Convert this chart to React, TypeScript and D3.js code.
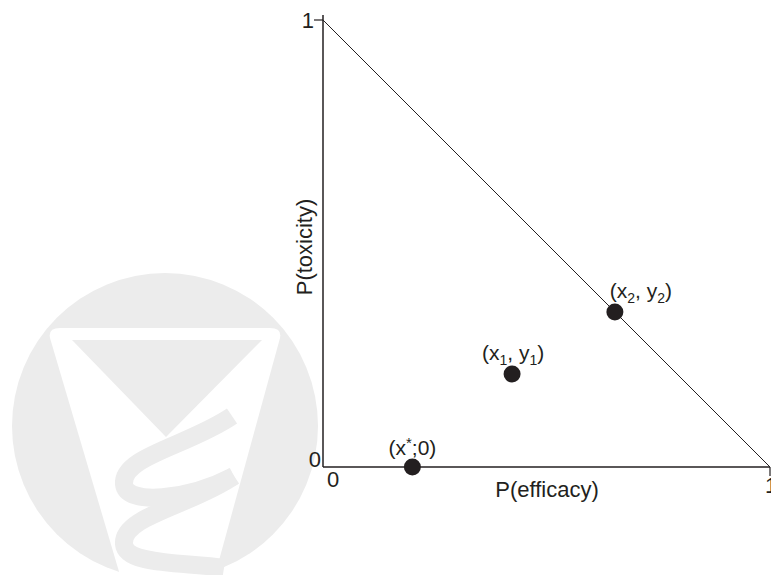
import React from "react";
import * as d3 from "d3";

// Probability plane: efficacy on x, toxicity on y
const axisDomain = [0, 1];
const axisTickLabels = ["0", "1"];
const xAxisTitle = "P(efficacy)";
const yAxisTitle = "P(toxicity)";

// Named design points (x, y) with their labels
const pointNames = ["xstar", "p1", "p2"];
const pointX = [0.2, 0.423, 0.653];
const pointY = [0, 0.208, 0.347];

const W = 771;
const H = 575;
const INK = "#231f20";
const FONT = "'Liberation Sans', Arial, Helvetica, sans-serif";
const MARK = "#ececec";

function Watermark() {
  return (
    <g>
      <circle cx={165} cy={426} r={153} fill={MARK} />
      <path
        d="M 50 338 Q 48 328 60 328 L 270 328 Q 282 328 280 338 L 215 575 L 120 575 Z"
        fill="#ffffff"
      />
      <path d="M 72 340 L 262 340 L 166 437 Z" fill={MARK} />
      <path
        d="M 232 416 C 188 446, 122 456, 124 484 C 126 506, 188 500, 234 476"
        fill="none"
        stroke={MARK}
        strokeWidth={18}
      />
      <path
        d="M 234 476 C 190 506, 122 516, 124 544 C 126 566, 186 562, 224 568"
        fill="none"
        stroke={MARK}
        strokeWidth={18}
      />
    </g>
  );
}

function PointLabel({ name }: { name: string }) {
  if (name === "xstar") {
    return (
      <tspan>
        (x<tspan dy={-7} fontSize={15}>*</tspan>
        <tspan dy={7}>;0)</tspan>
      </tspan>
    );
  }
  const k = name === "p1" ? "1" : "2";
  return (
    <tspan>
      (x<tspan dy={5} fontSize={14}>{k}</tspan>
      <tspan dy={-5}>, y</tspan>
      <tspan dy={5} fontSize={14}>{k}</tspan>
      <tspan dy={-5}>)</tspan>
    </tspan>
  );
}

export default function App() {
  const x = d3.scaleLinear().domain(axisDomain).range([323, 770]);
  const y = d3.scaleLinear().domain(axisDomain).range([467, 20]);

  const x0 = x(0);
  const x1 = x(1);
  const y0 = y(0);
  const y1 = y(1);

  const diagonal = d3.line<[number, number]>()
    .x((d) => x(d[0]))
    .y((d) => y(d[1]))([
    [0, 1],
    [1, 0],
  ]);

  const labelOffsets: Record<string, [number, number]> = {
    xstar: [0, -12],
    p1: [1, -14],
    p2: [26, -14],
  };

  return (
    <svg
      width={W}
      height={H}
      viewBox={`0 0 ${W} ${H}`}
      style={{ position: "absolute", left: 0, top: 0, background: "#fff" }}
      fontFamily={FONT}
    >
      <rect width={W} height={H} fill="#fff" />
      <Watermark />

      {/* axes */}
      <line x1={x0} y1={y1 - 5} x2={x0} y2={y0} stroke={INK} strokeWidth={1.5} />
      <line x1={x0} y1={y0} x2={x1} y2={y0} stroke={INK} strokeWidth={1.5} />
      <line x1={x0 - 9} y1={y1} x2={x0} y2={y1} stroke={INK} strokeWidth={1.2} />
      <line x1={x1} y1={y0} x2={x1} y2={y0 + 9} stroke={INK} strokeWidth={1.2} />

      {/* efficacy + toxicity = 1 boundary */}
      <path d={diagonal || ""} fill="none" stroke={INK} strokeWidth={1} />

      {/* tick labels */}
      <g fill={INK} fontSize={22}>
        <text x={x0 - 2} y={y0} textAnchor="end">{axisTickLabels[0]}</text>
        <text x={x0 + 4} y={y0 + 20}>{axisTickLabels[0]}</text>
        <text x={x0 - 9} y={y1 + 8} textAnchor="end">{axisTickLabels[1]}</text>
        <text x={x1 - 5} y={y0 + 26}>{axisTickLabels[1]}</text>
      </g>

      {/* axis titles */}
      <text x={547} y={497} textAnchor="middle" fontSize={22} fill={INK}>
        {xAxisTitle}
      </text>
      <text
        transform={`translate(312, 247) rotate(-90)`}
        textAnchor="middle"
        fontSize={22}
        fill={INK}
      >
        {yAxisTitle}
      </text>

      {/* points */}
      {pointNames.map((n, i) => {
        const cx = x(pointX[i]);
        const cy = y(pointY[i]);
        const [dx, dy] = labelOffsets[n];
        return (
          <g key={n}>
            <circle cx={cx} cy={cy} r={8.5} fill={INK} />
            <text
              x={cx + dx}
              y={cy + dy}
              textAnchor="middle"
              fontSize={21}
              fill={INK}
            >
              <PointLabel name={n} />
            </text>
          </g>
        );
      })}
    </svg>
  );
}
